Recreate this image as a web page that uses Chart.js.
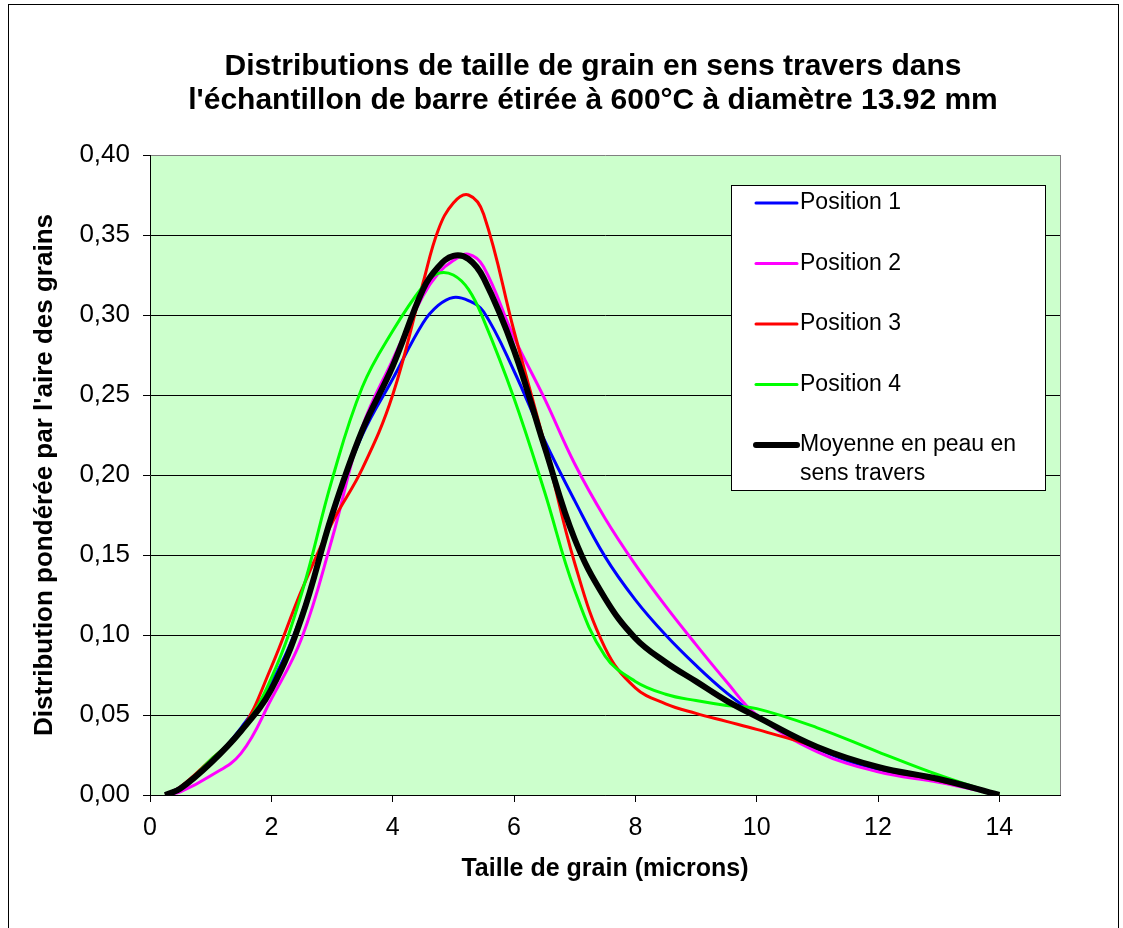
<!DOCTYPE html>
<html lang="fr">
<head>
<meta charset="utf-8">
<title>Distributions de taille de grain</title>
<script src="https://cdn.jsdelivr.net/npm/chart.js@4.4.1/dist/chart.umd.min.js"></script>
<style>
  html, body { margin: 0; padding: 0; background: #fff; }
  #wrap { position: relative; width: 1123px; height: 928px; }
</style>
</head>
<body>
<div id="wrap"><canvas id="grain"></canvas></div>
<script>
// grain size (microns) at which each distribution was sampled
const sizes = [0.25, 0.5, 1, 1.5, 2, 2.5, 3, 3.5, 4, 4.5, 4.75, 5, 5.25, 5.5, 6, 6.5, 7, 7.5, 8, 8.5, 9, 9.5, 10, 11, 12, 13, 14];

const position1 = [0, 0.005, 0.02, 0.042, 0.07, 0.113, 0.175, 0.225, 0.26, 0.295, 0.306, 0.311, 0.309, 0.302, 0.265, 0.222, 0.184, 0.149, 0.122, 0.1, 0.081, 0.064, 0.05, 0.029, 0.016, 0.009, 0];
const position2 = [0, 0.002, 0.012, 0.026, 0.06, 0.098, 0.16, 0.23, 0.272, 0.312, 0.326, 0.334, 0.338, 0.33, 0.286, 0.248, 0.207, 0.173, 0.144, 0.118, 0.094, 0.071, 0.05, 0.027, 0.0145, 0.008, 0];
const position3 = [0, 0.005, 0.022, 0.04, 0.08, 0.128, 0.17, 0.204, 0.25, 0.32, 0.353, 0.37, 0.375, 0.363, 0.29, 0.22, 0.145, 0.092, 0.067, 0.057, 0.051, 0.046, 0.041, 0.03, 0.017, 0.009, 0];
const position4 = [0, 0.004, 0.022, 0.04, 0.073, 0.126, 0.197, 0.255, 0.29, 0.318, 0.326, 0.325, 0.316, 0.297, 0.248, 0.19, 0.128, 0.087, 0.071, 0.063, 0.059, 0.056, 0.054, 0.042, 0.027, 0.0125, 0];
const moyenne   = [0, 0.004, 0.02, 0.04, 0.066, 0.111, 0.175, 0.228, 0.268, 0.316, 0.33, 0.337, 0.335, 0.323, 0.278, 0.218, 0.16, 0.123, 0.098, 0.083, 0.071, 0.059, 0.049, 0.03, 0.0175, 0.01, 0];

const seriesLabels = ['Position 1', 'Position 2', 'Position 3', 'Position 4', 'Moyenne en peau en sens travers'];
const seriesValues = [position1, position2, position3, position4, moyenne];
const seriesColors = ['#0000FF', '#FF00FF', '#FF0000', '#00FF00', '#000000'];
const seriesWidths = [3, 3, 3, 3, 6];

const xTicks = [0, 2, 4, 6, 8, 10, 12, 14];
const titleLines = [
  'Distributions de taille de grain en sens travers dans',
  "l'échantillon de barre étirée à 600°C à diamètre 13.92 mm"
];

const FONT = '"Liberation Sans", Arial, sans-serif';

// page frame, green plot area and its grey right edge
const framePlugin = {
  id: 'frame',
  beforeDraw(chart) {
    const { ctx, chartArea: a } = chart;
    ctx.save();
    ctx.fillStyle = '#fff';
    ctx.fillRect(0, 0, chart.width, chart.height);
    ctx.strokeStyle = '#000';
    ctx.lineWidth = 1;
    ctx.strokeRect(8.5, 4.5, 1110, 1000);
    ctx.fillStyle = '#CCFFCC';
    ctx.fillRect(a.left, a.top, a.right - a.left, a.bottom - a.top);
    ctx.restore();
  },
  beforeDatasetsDraw(chart) {
    const { ctx, chartArea: a } = chart;
    ctx.save();
    ctx.strokeStyle = '#808080';
    ctx.lineWidth = 1;
    ctx.beginPath();
    ctx.moveTo(Math.round(a.right) + 0.5, a.top);
    ctx.lineTo(Math.round(a.right) + 0.5, a.bottom);
    ctx.stroke();
    ctx.restore();
  }
};

// two-line chart title
const titlePlugin = {
  id: 'titleLines',
  afterDraw(chart) {
    const { ctx } = chart;
    ctx.save();
    ctx.fillStyle = '#000';
    ctx.font = 'bold 30px ' + FONT;
    ctx.textAlign = 'center';
    ctx.textBaseline = 'middle';
    titleLines.forEach((t, i) => ctx.fillText(t, 593, 67 + i * 34));
    ctx.restore();
  }
};

// boxed legend in the upper right of the plot
const boxLegend = {
  id: 'boxLegend',
  afterDatasetsDraw(chart) {
    const { ctx } = chart;
    const box = { x: 731, y: 185, w: 314, h: 305 };
    ctx.save();
    ctx.fillStyle = '#fff';
    ctx.fillRect(box.x, box.y, box.w, box.h);
    ctx.strokeStyle = '#000';
    ctx.lineWidth = 1;
    ctx.strokeRect(box.x + 0.5, box.y + 0.5, box.w, box.h);
    ctx.font = '23px ' + FONT;
    ctx.textBaseline = 'middle';
    ctx.fillStyle = '#000';
    chart.data.datasets.forEach((ds, i) => {
      const y = 203 + i * 60.5;
      ctx.strokeStyle = ds.borderColor;
      ctx.lineWidth = ds.borderWidth;
      ctx.lineCap = 'round';
      ctx.beginPath();
      ctx.moveTo(756, y);
      ctx.lineTo(797, y);
      ctx.stroke();
      // wrap long labels inside the box
      const words = ds.label.split(' ');
      let line = '', row = 0;
      for (const w of words) {
        const test = line ? line + ' ' + w : w;
        if (ctx.measureText(test).width > 230 && line) {
          ctx.fillText(line, 800, y + row * 29);
          line = w; row++;
        } else {
          line = test;
        }
      }
      ctx.fillText(line, 800, y + row * 29);
    });
    ctx.restore();
  }
};

const datasets = seriesLabels.map((label, i) => ({
  label,
  data: sizes.map((x, j) => ({ x, y: seriesValues[i][j] })),
  borderColor: seriesColors[i],
  backgroundColor: seriesColors[i],
  borderWidth: seriesWidths[i],
  pointRadius: 0,
  tension: 0.4,
  fill: false,
  order: i === 4 ? 0 : 5 - i
}));

new Chart(document.getElementById('grain'), {
  type: 'line',
  data: { datasets },
  options: {
    responsive: true,
    maintainAspectRatio: false,
    animation: false,
    layout: { padding: { left: 0, top: 155, right: 63, bottom: 0 } },
    scales: {
      x: {
        type: 'linear',
        min: 0, max: 15,
        afterBuildTicks: s => { s.ticks = xTicks.map(v => ({ value: v })); },
        afterFit: s => { s.height = 133; },
        ticks: { color: '#000', font: { family: FONT, size: 25 }, padding: 11, maxRotation: 0 },
        grid: { drawOnChartArea: false, drawTicks: true, tickLength: 7, color: '#000' },
        border: { color: '#000', width: 1 },
        title: {
          display: true,
          text: 'Taille de grain (microns)',
          color: '#000',
          font: { family: FONT, size: 25, weight: 'bold' },
          padding: { top: 0, bottom: 44 }
        }
      },
      y: {
        min: 0, max: 0.4,
        afterFit: s => { s.width = 150; },
        ticks: {
          stepSize: 0.05,
          color: '#000',
          font: { family: FONT, size: 26 },
          padding: 13,
          callback: v => v.toFixed(2).replace('.', ',')
        },
        grid: {
          color: ctx => (ctx.tick && ctx.tick.value >= 0.399 ? '#808080' : '#000'),
          lineWidth: 1,
          tickLength: 7,
          tickColor: '#000'
        },
        border: { color: '#000', width: 1 },
        title: {
          display: true,
          text: "Distribution pondérée par l'aire des grains",
          color: '#000',
          font: { family: FONT, size: 26, weight: 'bold' },
          padding: { top: 29, bottom: 0 }
        }
      }
    },
    plugins: {
      legend: { display: false },
      tooltip: { enabled: false }
    }
  },
  plugins: [framePlugin, titlePlugin, boxLegend]
});
</script>
</body>
</html>
